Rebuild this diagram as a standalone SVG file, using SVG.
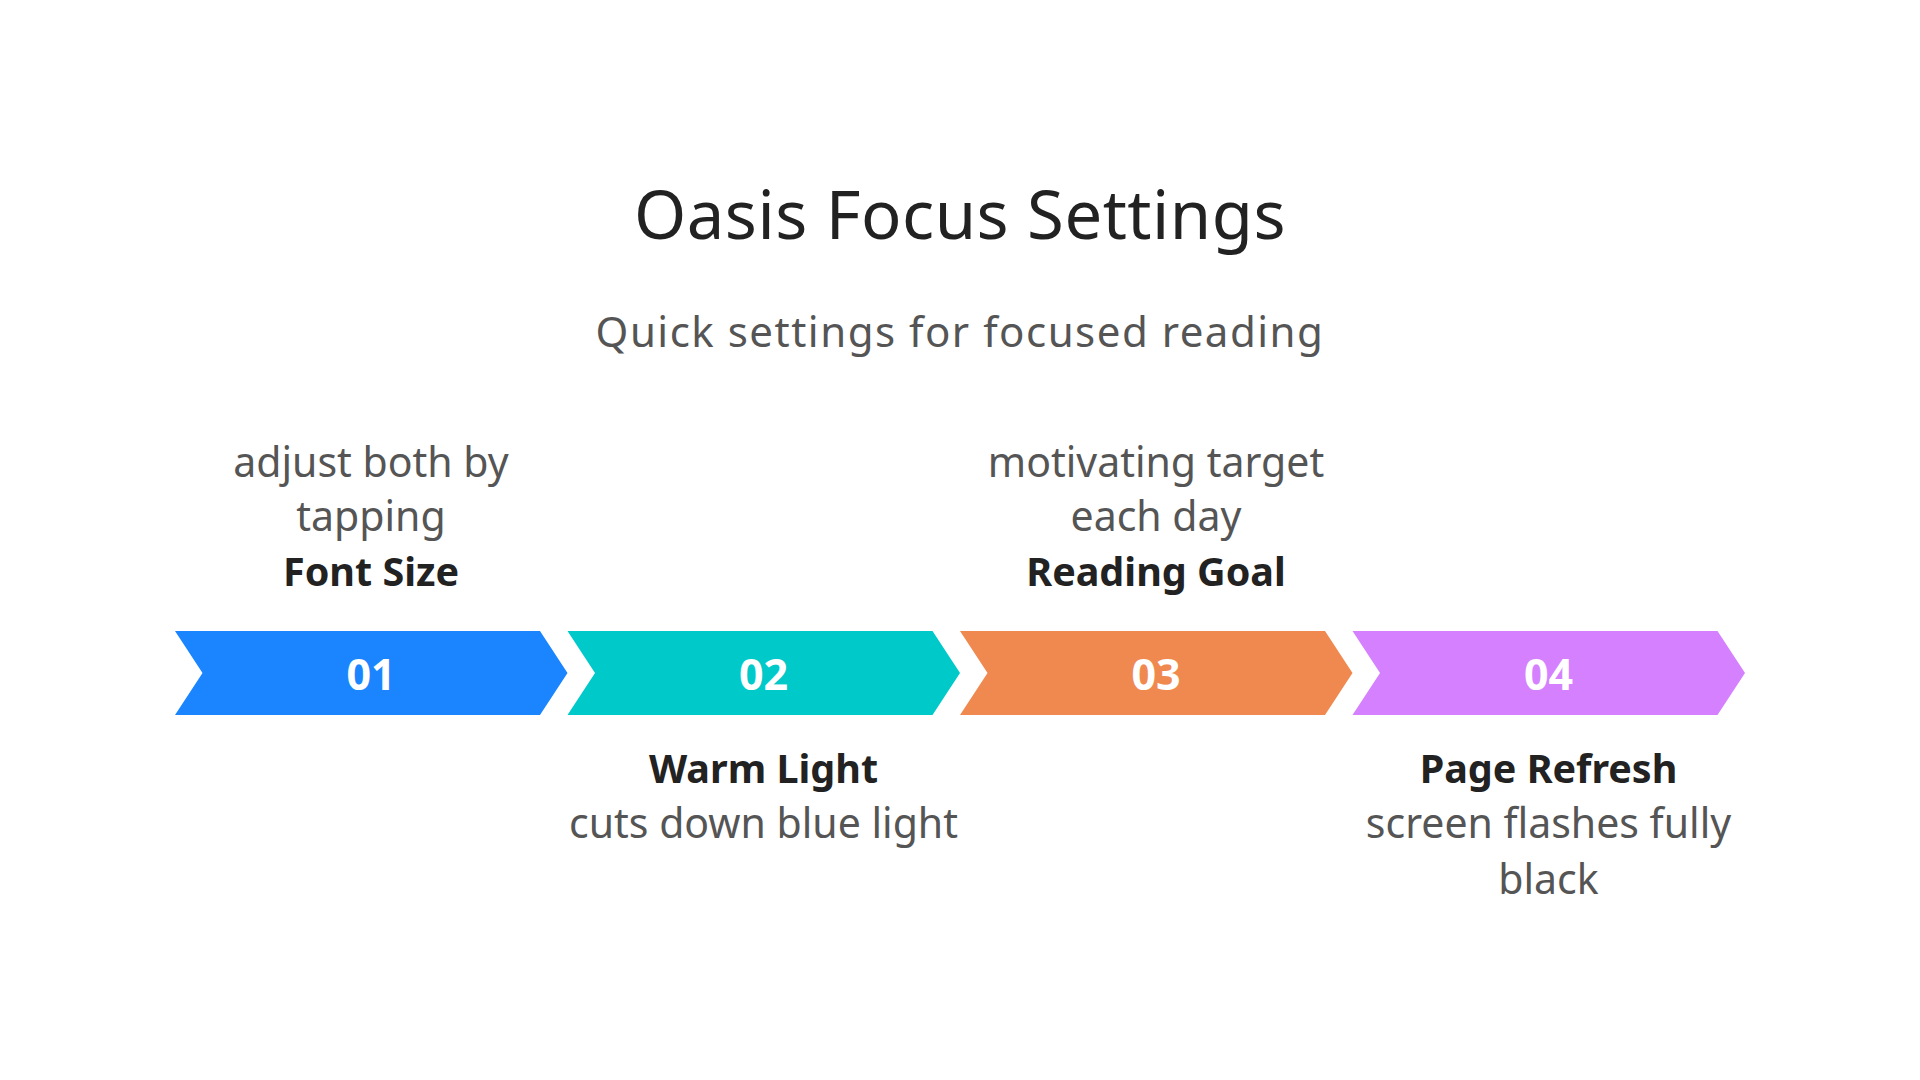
<svg xmlns="http://www.w3.org/2000/svg" width="1920" height="1080" viewBox="0 0 1920 1080">
<style>
text { font-family: "Noto Sans", "Open Sans", "DejaVu Sans", sans-serif; text-anchor: middle; }
.title { font-size: 67px; fill: #222222; letter-spacing: 0.5px; }
.subtitle { font-size: 42px; fill: #555555; letter-spacing: 1.5px; }
.desc { font-size: 41px; fill: #555555; }
.label { font-size: 39.5px; font-weight: bold; fill: #222222; }
.num { font-size: 43px; font-weight: bold; fill: #ffffff; }
</style>
<defs>
<path id="chev" d="M0,631 L365,631 L392.5,673 L365,715 L0,715 L27.5,673 Z"/>
</defs>
<rect x="0" y="0" width="1920" height="1080" fill="#ffffff"/>
<g id="header">
<text class="title" x="960" y="239">Oasis Focus Settings</text>
<text class="subtitle" x="960" y="347">Quick settings for focused reading</text>
</g>
<g id="connectors"></g>
<g id="step1">
<use href="#chev" x="175" fill="#1a85ff"/>
<text class="num" x="371" y="690">01</text>
<text class="desc" x="371" y="477">adjust both by</text>
<text class="desc" x="371" y="531">tapping</text>
<text class="label" x="371" y="586">Font Size</text>
</g>
<g id="step2">
<use href="#chev" x="567.5" fill="#00c9c9"/>
<text class="num" x="763.5" y="690">02</text>
<text class="label" x="763.5" y="783">Warm Light</text>
<text class="desc" x="763.5" y="838">cuts down blue light</text>
</g>
<g id="step3">
<use href="#chev" x="960" fill="#f0894f"/>
<text class="num" x="1156" y="690">03</text>
<text class="desc" x="1156" y="477">motivating target</text>
<text class="desc" x="1156" y="531">each day</text>
<text class="label" x="1156" y="586">Reading Goal</text>
</g>
<g id="step4">
<use href="#chev" x="1352.5" fill="#d580ff"/>
<text class="num" x="1548.5" y="690">04</text>
<text class="label" x="1548.5" y="783">Page Refresh</text>
<text class="desc" x="1548.5" y="838">screen flashes fully</text>
<text class="desc" x="1548.5" y="894">black</text>
</g>
</svg>
